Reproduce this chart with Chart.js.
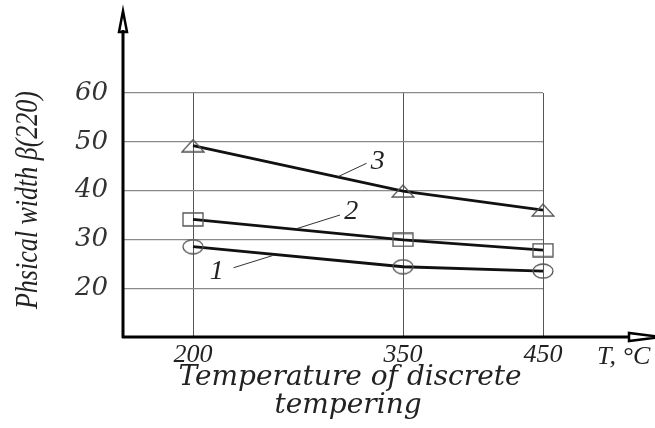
<!DOCTYPE html>
<html>
<head>
<meta charset="utf-8">
<script src="https://cdn.jsdelivr.net/npm/chart.js@4"></script>
<style>
    body { margin: 0; background: #fff; }
    #wrap { width: 655px; height: 428px; position: relative; }
</style>
</head>
<body>
<div id="wrap"><canvas id="myChart"></canvas></div>
<script>
// values
const temps = [200, 350, 450];
const curve1 = [28.5, 24.4, 23.5];
const curve2 = [34.1, 29.9, 27.8];
const curve3 = [49.2, 39.9, 36.0];
const curveNames = ['1', '2', '3'];
const xTicks = [200, 350, 450];
const yTicks = [20, 30, 40, 50, 60];
const xTitle = ['Temperature of discrete', 'tempering'];
const yTitle = 'Phsical width \u03B2(220)';
const xUnit = 'T, \u00B0C';

// curve labels with their leader lines, in data units (x = T, y = width)
const labelAt = [[217, 23.3], [313, 35.6], [332, 45.9]];
const leaderFrom = [[229, 24.2], [305, 35.0], [324, 45.6]];
const leaderTo = [[257, 26.7], [274, 32.2], [304, 42.9]];

function makeMarker(kind) {
    const c = document.createElement('canvas');
    const w = kind == 'tri' ? 24 : 22;
    const h = kind == 'circle' ? 16 : (kind == 'rect' ? 15 : 14);
    c.width = w; c.height = h;
    const g = c.getContext('2d');
    g.strokeStyle = '#555';
    g.lineWidth = 1.3;
    g.beginPath();
    if (kind == 'circle') {
        g.ellipse(w / 2, h / 2, w / 2 - 1, h / 2 - 1, 0, 0, Math.PI * 2);
    } else if (kind == 'rect') {
        g.rect(1, 1, w - 2, h - 2);
    } else {
        g.moveTo(w / 2, 1);
        g.lineTo(w - 1, h - 1);
        g.lineTo(1, h - 1);
        g.closePath();
    }
    g.stroke();
    return c;
}

function pts(vals) {
    return temps.map(function(t, i) { return { x: t, y: vals[i] }; });
}

const extras = {
    id: 'extras',
    afterDraw: function(chart) {
        const ctx = chart.ctx;
        const xs = chart.scales.x, ys = chart.scales.y;
        const left = chart.chartArea.left, bottom = chart.chartArea.bottom;
        ctx.save();

        // axes with open arrow heads
        ctx.strokeStyle = '#000';
        ctx.lineWidth = 3;
        ctx.beginPath();
        ctx.moveTo(left, bottom + 1);
        ctx.lineTo(left, 30);
        ctx.moveTo(left - 1, bottom);
        ctx.lineTo(630, bottom);
        ctx.stroke();
        ctx.lineWidth = 2.5;
        ctx.beginPath();
        ctx.moveTo(left, 11);
        ctx.lineTo(left + 4, 32);
        ctx.lineTo(left - 4, 32);
        ctx.closePath();
        ctx.moveTo(660, bottom);
        ctx.lineTo(629, bottom - 4);
        ctx.lineTo(629, bottom + 4);
        ctx.closePath();
        ctx.stroke();

        // leader lines and curve numbers
        ctx.strokeStyle = '#333';
        ctx.lineWidth = 1;
        ctx.fillStyle = '#222';
        ctx.font = 'italic 28px "Liberation Serif"';
        ctx.textAlign = 'center';
        ctx.textBaseline = 'middle';
        for (let i = 0; i < curveNames.length; i++) {
            ctx.beginPath();
            ctx.moveTo(xs.getPixelForValue(leaderFrom[i][0]), ys.getPixelForValue(leaderFrom[i][1]));
            ctx.lineTo(xs.getPixelForValue(leaderTo[i][0]), ys.getPixelForValue(leaderTo[i][1]));
            ctx.stroke();
            ctx.fillText(curveNames[i], xs.getPixelForValue(labelAt[i][0]), ys.getPixelForValue(labelAt[i][1]));
        }

        // unit at the end of the x axis
        ctx.font = 'italic 26px "Liberation Serif"';
        ctx.textAlign = 'left';
        ctx.fillText(xUnit, 597, 357);

        // axis titles
        ctx.font = 'italic 28px "DejaVu Serif"';
        ctx.textAlign = 'center';
        ctx.fillText(xTitle[0], 350, 378);
        ctx.fillText(xTitle[1], 348, 406);

        ctx.translate(29, 200);
        ctx.rotate(-Math.PI / 2);
        ctx.scale(1, 1.2);
        ctx.font = 'italic 26px "Liberation Serif"';
        ctx.fillText(yTitle, 0, 0);
        ctx.restore();
    }
};

const lineStyle = {
    borderColor: '#111',
    borderWidth: 2.8,
    backgroundColor: 'transparent',
    tension: 0,
    pointRadius: 10,
    clip: false
};

const myChart = new Chart(document.getElementById('myChart').getContext('2d'), {
    type: 'line',
    data: {
        datasets: [
            Object.assign({ label: curveNames[0], data: pts(curve1), pointStyle: makeMarker('circle') }, lineStyle),
            Object.assign({ label: curveNames[1], data: pts(curve2), pointStyle: makeMarker('rect') }, lineStyle),
            Object.assign({ label: curveNames[2], data: pts(curve3), pointStyle: makeMarker('tri') }, lineStyle)
        ]
    },
    options: {
        responsive: true,
        maintainAspectRatio: false,
        animation: false,
        layout: { padding: { top: 93, right: 112, left: 0, bottom: 0 } },
        plugins: { legend: { display: false }, tooltip: { enabled: false } },
        scales: {
            x: {
                type: 'linear',
                min: 150,
                max: 450,
                afterBuildTicks: function(scale) {
                    scale.ticks = xTicks.map(function(v) { return { value: v }; });
                },
                afterFit: function(scale) { scale.height = 91; },
                grid: { color: '#555', lineWidth: 1, drawTicks: false },
                border: { display: false },
                ticks: {
                    padding: 3,
                    color: '#222',
                    font: { family: 'Liberation Serif', style: 'italic', size: 26 },
                    callback: function(v) { return String(v); }
                }
            },
            y: {
                type: 'linear',
                min: 10,
                max: 60,
                afterBuildTicks: function(scale) {
                    scale.ticks = yTicks.map(function(v) { return { value: v }; });
                },
                afterFit: function(scale) { scale.width = 123; },
                grid: { color: '#8a8a8a', lineWidth: 1.2, drawTicks: false },
                border: { display: false },
                ticks: {
                    padding: 15,
                    color: '#333',
                    font: { family: 'DejaVu Serif', style: 'italic', size: 26 },
                    callback: function(v) { return String(v); }
                }
            }
        }
    },
    plugins: [extras]
});
</script>
</body>
</html>
